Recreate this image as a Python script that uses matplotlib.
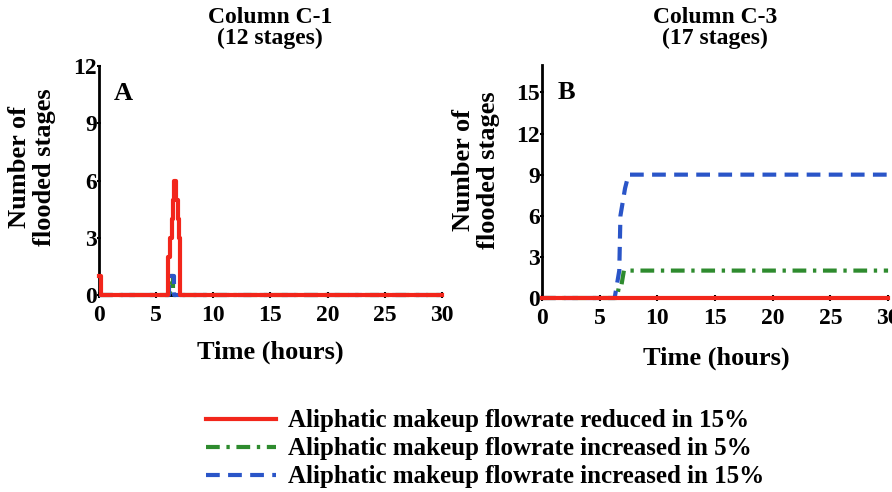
import matplotlib.pyplot as plt
from matplotlib.lines import Line2D

plt.rcParams['font.family'] = ['Liberation Serif', 'DejaVu Serif']
plt.rcParams['font.weight'] = 'bold'

# DATA
# Panel A - Column C-1 (12 stages)
a_red_t = [0, 0.15, 0.15, 6.0, 6.0, 6.2, 6.2, 6.4, 6.4, 6.5, 6.5, 6.6, 6.6, 6.75, 6.75, 6.9, 6.9, 7.0, 7.0, 7.1, 7.1, 30]
a_red_y = [1, 1, 0, 0, 2, 2, 3, 3, 4, 4, 5, 5, 6, 6, 5, 5, 4, 4, 3, 3, 0, 0]
a_green_t = [0, 6.2, 6.2, 6.5, 6.5, 30]
a_green_y = [0, 0, 1, 1, 0, 0]
a_blue_t = [0, 6.1, 6.1, 6.6, 6.6, 30]
a_blue_y = [0, 0, 1, 1, 0, 0]

# Panel B - Column C-3 (17 stages)
b_red_t = [0, 30]
b_red_y = [0, 0]
b_green_t = [0, 6.5, 6.7, 6.9, 7.1, 7.3, 30]
b_green_y = [0, 0, 1, 1, 2, 2, 2]
b_blue_t = [0, 6.3, 6.5, 6.7, 6.8, 7.0, 7.2, 7.5, 30]
b_blue_y = [0, 0, 1, 2, 6, 7, 8, 9, 9]

titles = ["Column C-1\n(12 stages)", "Column C-3\n(17 stages)"]
panel_labels = ["A", "B"]
y_max = [12, 17]
y_ticks = [[0, 3, 6, 9, 12], [0, 3, 6, 9, 12, 15]]
x_ticks = [0, 5, 10, 15, 20, 25, 30]
legend_labels = ["Aliphatic makeup flowrate reduced in 15%",
                 "Aliphatic makeup flowrate increased in 5%",
                 "Aliphatic makeup flowrate increased in 15%"]

RED = '#f2261b'
GREEN = '#2e8b2e'
BLUE = '#2a55c8'
styles = [dict(color=RED, ls='-'),
          dict(color=GREEN, ls=(0, (3.3, 1.6, 0.8, 1.6))),
          dict(color=BLUE, ls=(0, (3.3, 2.0)))]

fig = plt.figure(figsize=(8.92, 4.92), dpi=100)
ax_a = fig.add_axes([0.111, 0.4004, 0.3845, 0.4654])
ax_b = fig.add_axes([0.6076, 0.3943, 0.388, 0.4736])

series = [
    [(a_red_t, a_red_y), (a_green_t, a_green_y), (a_blue_t, a_blue_y)],
    [(b_red_t, b_red_y), (b_green_t, b_green_y), (b_blue_t, b_blue_y)],
]

#  PANELS
for i, ax in enumerate([ax_a, ax_b]):
    # green first, blue over it, red on top
    for z, j in enumerate([1, 2, 0]):
        t, y = series[i][j]
        ax.plot(t, y, lw=3, clip_on=False, zorder=2 + z, **styles[j])
    ax.set_xlim(0, 30)
    ax.set_ylim(0, y_max[i])
    ax.set_xticks(x_ticks)
    ax.set_yticks(y_ticks[i])
    ax.tick_params(axis='x', labelsize=17, width=1.5, length=4, direction='inout', pad=5)
    ax.tick_params(axis='y', labelsize=17, width=1.5, length=3, direction='inout', pad=0)
    for lab in ax.get_xticklabels() + ax.get_yticklabels():
        lab.set_fontweight('bold')
    for s in ['top', 'right']:
        ax.spines[s].set_visible(False)
    for s in ['left', 'bottom']:
        ax.spines[s].set_linewidth(2)
    ax.set_xlabel("Time (hours)", fontsize=19, fontweight='bold')
    ax.set_ylabel("Number of\nflooded stages", fontsize=19, fontweight='bold', linespacing=1.1)
    ax.text(0.07, 0.88, panel_labels[i], transform=ax.transAxes, fontsize=19,
            fontweight='bold', ha='center', va='center')

ax_a.xaxis.set_label_coords(0.5, -0.2)
ax_b.xaxis.set_label_coords(0.503, -0.21)
ax_a.yaxis.set_label_coords(-0.125, 0.56)
ax_b.yaxis.set_label_coords(-0.122, 0.55)

# titles above each panel
fig.text(270 / 892, 1 - 28 / 492, titles[0], ha='center', va='center', fontsize=17,
         fontweight='bold', linespacing=1.05)
fig.text(715 / 892, 1 - 28 / 492, titles[1], ha='center', va='center', fontsize=17,
         fontweight='bold', linespacing=1.05)

#  LEGEND
handles = [Line2D([0], [0], lw=3, **st) for st in styles]
fig.legend(handles, legend_labels, loc='center left', bbox_to_anchor=(206 / 892, 1 - 449 / 492),
           frameon=False, handlelength=2.8, labelspacing=0.2, handletextpad=0.5,
           borderpad=0, borderaxespad=0, prop={'weight': 'bold', 'size': 18})

fig.savefig("out.png", dpi=100)
